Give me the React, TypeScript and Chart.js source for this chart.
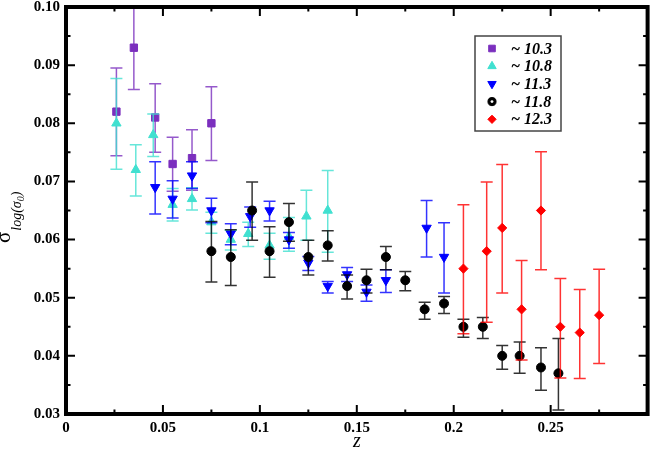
import { useEffect, useRef } from 'react'
import { Chart, registerables } from 'chart.js'

Chart.register(...registerables)

// ── Data ──────────────────────────────────────────────────────────────────
const seriesLabels = ['~ 10.3', '~ 10.8', '~ 11.3', '~ 11.8', '~ 12.3']
const seriesColors = ['#7b2fbe', '#40e0d0', '#0000ff', '#000000', '#ff0000']

const z103 = [0.026, 0.035, 0.046, 0.055, 0.065, 0.075]
const s103 = [0.082, 0.093, 0.081, 0.073, 0.074, 0.080]
const lo103 = [0.0744, 0.0858, 0.0750, 0.0683, 0.0685, 0.0736]
const hi103 = [0.0895, 0.1003, 0.0868, 0.0776, 0.0789, 0.0863]

const z108 = [0.026, 0.036, 0.045, 0.055, 0.065, 0.075, 0.085, 0.094, 0.105, 0.115, 0.124, 0.135]
const s108 = [0.080, 0.072, 0.078, 0.066, 0.067, 0.063, 0.060, 0.061, 0.059, 0.0605, 0.064, 0.065]
const lo108 = [0.0721, 0.0675, 0.0743, 0.0632, 0.0651, 0.0611, 0.0582, 0.0588, 0.0566, 0.0580, 0.0599, 0.0578]
const hi108 = [0.0877, 0.0763, 0.0816, 0.0688, 0.0689, 0.0647, 0.0616, 0.0630, 0.0611, 0.0638, 0.0685, 0.0719]

const z113 = [0.046, 0.055, 0.065, 0.075, 0.085, 0.095, 0.105, 0.115, 0.125, 0.135, 0.145, 0.155, 0.165, 0.186, 0.195]
const s113 = [0.069, 0.067, 0.071, 0.065, 0.061, 0.064, 0.065, 0.060, 0.056, 0.052, 0.054, 0.051, 0.053, 0.062, 0.057]
const lo113 = [0.0644, 0.0637, 0.0688, 0.0629, 0.0591, 0.0621, 0.0632, 0.0585, 0.0547, 0.0508, 0.0528, 0.0494, 0.0509, 0.0570, 0.0508]
const hi113 = [0.0734, 0.0701, 0.0734, 0.0671, 0.0627, 0.0656, 0.0666, 0.0612, 0.0571, 0.0528, 0.0552, 0.0522, 0.0548, 0.0667, 0.0629]

const z118 = [0.075, 0.085, 0.096, 0.105, 0.115, 0.125, 0.135, 0.145, 0.155, 0.165, 0.175, 0.185, 0.195, 0.205, 0.215, 0.225, 0.234, 0.245, 0.254]
const s118 = [0.058, 0.057, 0.065, 0.058, 0.063, 0.057, 0.059, 0.052, 0.053, 0.057, 0.053, 0.048, 0.049, 0.045, 0.045, 0.040, 0.040, 0.038, 0.037]
const lo118 = [0.0527, 0.0521, 0.0599, 0.0535, 0.0597, 0.0539, 0.0563, 0.0498, 0.0508, 0.0548, 0.0512, 0.0463, 0.0473, 0.0432, 0.0430, 0.0377, 0.0370, 0.0341, 0.0307]
const hi118 = [0.0631, 0.0617, 0.0699, 0.0622, 0.0662, 0.0599, 0.0615, 0.0539, 0.0549, 0.0588, 0.0545, 0.0492, 0.0502, 0.0463, 0.0466, 0.0418, 0.0424, 0.0414, 0.0430]

const z123 = [0.205, 0.217, 0.225, 0.235, 0.245, 0.255, 0.265, 0.275]
const s123 = [0.055, 0.058, 0.062, 0.048, 0.065, 0.045, 0.044, 0.047]
const lo123 = [0.0438, 0.0458, 0.0508, 0.0393, 0.0548, 0.0362, 0.0361, 0.0387]
const hi123 = [0.0660, 0.0699, 0.0729, 0.0564, 0.0751, 0.0533, 0.0514, 0.0549]

const xTicks = [0, 0.05, 0.1, 0.15, 0.2, 0.25]
const xTickLabels = ['0', '0.05', '0.1', '0.15', '0.2', '0.25']
const yTicks = [0.03, 0.04, 0.05, 0.06, 0.07, 0.08, 0.09, 0.10]
const yTickLabels = ['0.03', '0.04', '0.05', '0.06', '0.07', '0.08', '0.09', '0.10']

const xMin = 0, xMax = 0.3, yMin = 0.03, yMax = 0.10

const allZ = [z103, z108, z113, z118, z123]
const allS = [s103, s108, s113, s118, s123]
const allLo = [lo103, lo108, lo113, lo118, lo123]
const allHi = [hi103, hi108, hi113, hi118, hi123]

const pointStyles = ['rect', 'triangle', 'triangle', 'circle', 'rectRot']
const rotations = [0, 0, 180, 0, 0]
const radii = [5.2, 5.4, 5.4, 4.5, 4.6]

const SERIF = '"Liberation Serif", "Times New Roman", serif'

function withAlpha(hex: string, a: number) {
  const n = parseInt(hex.slice(1), 16)
  return `rgba(${(n >> 16) & 255},${(n >> 8) & 255},${n & 255},${a})`
}

// legend marker, same shapes as Chart.js point styles
function drawMarker(c: CanvasRenderingContext2D, style: string, x: number, y: number, r: number, rot: number, col: string, ring: boolean) {
  c.save()
  c.fillStyle = col
  c.strokeStyle = col
  c.lineWidth = 1
  c.beginPath()
  if (style === 'rect') {
    const s = r * Math.SQRT1_2
    c.rect(x - s, y - s, 2 * s, 2 * s)
  } else if (style === 'triangle') {
    let ang = (rot * Math.PI) / 180
    for (let k = 0; k < 3; k++) {
      const px = x + Math.sin(ang) * r, py = y - Math.cos(ang) * r
      if (k === 0) c.moveTo(px, py); else c.lineTo(px, py)
      ang += (2 * Math.PI) / 3
    }
    c.closePath()
  } else if (style === 'circle') {
    c.arc(x, y, r, 0, Math.PI * 2)
  } else {
    c.moveTo(x, y - r); c.lineTo(x + r, y); c.lineTo(x, y + r); c.lineTo(x - r, y)
    c.closePath()
  }
  c.fill()
  c.stroke()
  if (ring) {
    c.beginPath()
    c.fillStyle = '#fff'
    c.arc(x, y, r * 0.35, 0, Math.PI * 2)
    c.fill()
  }
  c.restore()
}

export default function App() {
  const canvasRef = useRef<HTMLCanvasElement>(null)

  useEffect(() => {
    if (!canvasRef.current) return
    const ctx = canvasRef.current.getContext('2d')
    if (!ctx) return

    // ── error bars, drawn just before each dataset's markers ──────────────
    const errorBarPlugin = {
      id: 'errorBars',
      beforeDatasetDraw(chart: any, args: any) {
        const { ctx: c, chartArea, scales } = chart
        const ds = chart.data.datasets[args.index]
        c.save()
        c.beginPath()
        c.rect(chartArea.left, chartArea.top, chartArea.right - chartArea.left, chartArea.bottom - chartArea.top)
        c.clip()
        c.strokeStyle = withAlpha(ds.borderColor, 0.8)
        c.lineWidth = 1.5
        args.meta.data.forEach((pt: any, i: number) => {
          const yl = scales.y.getPixelForValue(ds.errLo[i])
          const yh = scales.y.getPixelForValue(ds.errHi[i])
          const x = pt.x
          c.beginPath()
          c.moveTo(x, yl); c.lineTo(x, yh)
          c.moveTo(x - 6, yl); c.lineTo(x + 6, yl)
          c.moveTo(x - 6, yh); c.lineTo(x + 6, yh)
          c.stroke()
        })
        c.restore()
      },
    }

    // ── frame, inward ticks, legend, axis titles ───────────────────────────
    const framePlugin = {
      id: 'frame',
      afterDraw(chart: any) {
        const { ctx: c, chartArea: a, scales } = chart
        const xs = scales.x, ys = scales.y
        c.save()
        c.strokeStyle = '#000'
        c.lineWidth = 2
        c.beginPath()
        for (let k = 0; k <= 14; k++) {
          const py = ys.getPixelForValue(yMin + k * 0.005)
          const len = k % 2 === 0 ? 9 : 4.5
          c.moveTo(a.left, py); c.lineTo(a.left + len, py)
          c.moveTo(a.right, py); c.lineTo(a.right - len, py)
        }
        for (let k = 0; k <= 12; k++) {
          const px = xs.getPixelForValue(xMin + k * 0.025)
          const len = k % 2 === 0 ? 9 : 4.5
          c.moveTo(px, a.bottom); c.lineTo(px, a.bottom - len)
          c.moveTo(px, a.top); c.lineTo(px, a.top + len)
        }
        c.stroke()

        c.lineWidth = 4
        c.strokeRect(a.left, a.top, a.right - a.left, a.bottom - a.top)

        // legend
        const lx = 475, ly = 36, lw = 86, lh = 95
        c.fillStyle = '#fff'
        c.fillRect(lx, ly, lw, lh)
        c.lineWidth = 1.5
        c.strokeStyle = '#444'
        c.strokeRect(lx, ly, lw, lh)
        seriesLabels.forEach((lab, i) => {
          const ry = ly + 12.5 + i * 17.7
          drawMarker(c, pointStyles[i], 492, ry, radii[i] * 0.9, rotations[i], seriesColors[i], i === 3)
          c.fillStyle = '#000'
          c.font = `italic bold 16px ${SERIF}`
          c.textAlign = 'left'
          c.textBaseline = 'middle'
          c.fillText(lab, 511, ry + 1)
        })

        // x title
        c.fillStyle = '#000'
        c.font = `italic 20px ${SERIF}`
        c.textAlign = 'center'
        c.textBaseline = 'alphabetic'
        c.fillText('z', (a.left + a.right) / 2, 447)

        // y title: σ_{log(σ0)}
        c.save()
        c.translate(0, 243)
        c.rotate(-Math.PI / 2)
        c.textAlign = 'left'
        c.textBaseline = 'alphabetic'
        c.font = `21px ${SERIF}`
        c.fillText('σ', 0, 10)
        let x = c.measureText('σ').width + 1
        c.font = `italic 14px ${SERIF}`
        c.fillText('log(σ', x, 21)
        x += c.measureText('log(σ').width
        c.font = `italic 10px ${SERIF}`
        c.fillText('0', x, 24)
        x += c.measureText('0').width
        c.font = `italic 14px ${SERIF}`
        c.fillText(')', x, 21)
        c.restore()

        c.restore()
      },
    }

    const datasets = seriesLabels.map((lab, i) => ({
      label: lab,
      data: allZ[i].map((z, j) => ({ x: z, y: allS[i][j] })),
      errLo: allLo[i],
      errHi: allHi[i],
      pointStyle: pointStyles[i],
      rotation: rotations[i],
      pointRadius: radii[i],
      pointHoverRadius: radii[i],
      backgroundColor: seriesColors[i],
      borderColor: seriesColors[i],
      borderWidth: 1,
      showLine: false,
      order: 5 - i,
    }))

    const chart = new Chart(ctx, {
      type: 'scatter',
      plugins: [errorBarPlugin, framePlugin],
      data: { datasets },
      options: {
        responsive: true,
        maintainAspectRatio: false,
        animation: false,
        layout: { padding: { left: 0, top: 7, right: 4, bottom: 0 } },
        plugins: { legend: { display: false }, tooltip: { enabled: false } },
        scales: {
          x: {
            type: 'linear',
            min: xMin,
            max: xMax,
            afterBuildTicks: (s: any) => { s.ticks = xTicks.map(v => ({ value: v })) },
            afterFit: (s: any) => { s.height = 37; s.paddingLeft = 0; s.paddingRight = 0 },
            ticks: {
              autoSkip: false,
              maxRotation: 0,
              padding: 5,
              color: '#000',
              font: { family: SERIF, size: 15, weight: 'bold' },
              callback: (v: any) => {
                const k = xTicks.findIndex(t => Math.abs(t - Number(v)) < 1e-9)
                return k >= 0 ? xTickLabels[k] : ''
              },
            },
            grid: { display: false, drawTicks: false },
            border: { display: false },
          },
          y: {
            type: 'linear',
            min: yMin,
            max: yMax,
            afterBuildTicks: (s: any) => { s.ticks = yTicks.map(v => ({ value: v })) },
            afterFit: (s: any) => { s.width = 66; s.paddingTop = 0; s.paddingBottom = 0 },
            ticks: {
              autoSkip: false,
              padding: 6,
              color: '#000',
              font: { family: SERIF, size: 15, weight: 'bold' },
              callback: (v: any) => {
                const k = yTicks.findIndex(t => Math.abs(t - Number(v)) < 1e-9)
                return k >= 0 ? yTickLabels[k] : ''
              },
            },
            grid: { display: false, drawTicks: false },
            border: { display: false },
          },
        },
      },
    } as any)

    return () => { chart.destroy() }
  }, [])

  return (
    <div style={{ position: 'fixed', left: 0, top: 0, width: 654, height: 451, background: '#fff' }}>
      <canvas ref={canvasRef} role="img" aria-label="sigma log(sigma0) vs z" />
    </div>
  )
}
